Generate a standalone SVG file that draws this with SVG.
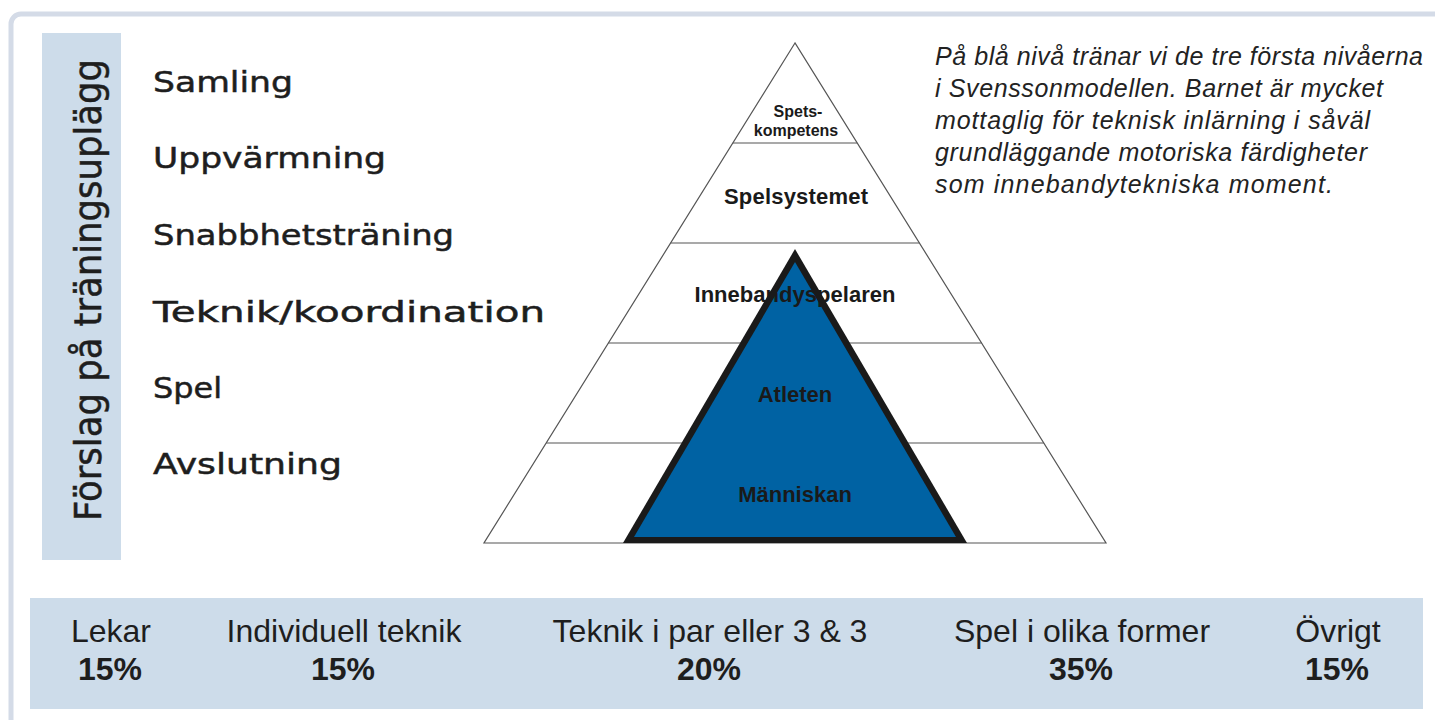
<svg xmlns="http://www.w3.org/2000/svg" width="1435" height="720" viewBox="0 0 1435 720">
  <style>
    .panel { fill: #cddcea; }
    .hand { font-family: "DejaVu Sans", sans-serif; font-size: 29px; fill: #1e1e1e; stroke: #1e1e1e; stroke-width: 0.5; }
    .tier { fill: none; stroke: #555; stroke-width: 1.2; }
    .lvl { font-family: "Liberation Sans", Arial, sans-serif; font-weight: bold; font-size: 22px; fill: #1a1a1a; text-anchor: middle; }
    .lvl.small { font-size: 16px; }
    .note { font-family: "Liberation Sans", Arial, sans-serif; font-style: italic; font-size: 25px; fill: #222; }
    .cat { font-family: "Liberation Sans", Arial, sans-serif; font-size: 32px; fill: #1e1e1e; text-anchor: middle; }
    .pct { font-family: "Liberation Sans", Arial, sans-serif; font-size: 32px; font-weight: bold; fill: #1e1e1e; text-anchor: middle; }
  </style>

  <!-- page frame -->
  <rect x="0" y="0" width="1435" height="720" fill="#ffffff"/>
  <rect x="11" y="14" width="1500" height="800" rx="10" fill="#ffffff" stroke="#d4dbe7" stroke-width="5"/>

  <!-- vertical heading -->
  <g id="heading">
    <rect class="panel" x="42" y="33" width="79" height="527"/>
    <text class="hand" style="font-size:38px" transform="translate(101,521) rotate(-90)" textLength="462" lengthAdjust="spacingAndGlyphs">Förslag på träningsuplägg</text>
  </g>

  <!-- session outline -->
  <g id="session-steps">
    <text class="hand" x="153" y="92" textLength="140" lengthAdjust="spacingAndGlyphs">Samling</text>
    <text class="hand" x="153" y="168" textLength="233" lengthAdjust="spacingAndGlyphs">Uppvärmning</text>
    <text class="hand" x="153" y="245" textLength="301" lengthAdjust="spacingAndGlyphs">Snabbhetsträning</text>
    <text class="hand" x="153" y="322" textLength="392" lengthAdjust="spacingAndGlyphs">Teknik/koordination</text>
    <text class="hand" x="153" y="398" textLength="69" lengthAdjust="spacingAndGlyphs">Spel</text>
    <text class="hand" x="153" y="474" textLength="189" lengthAdjust="spacingAndGlyphs">Avslutning</text>
  </g>

  <!-- pyramid -->
  <g id="pyramid">
    <polygon class="tier" points="795,43 484,543 1106,543" fill="#ffffff"/>
    <line class="tier" x1="732.8" y1="143" x2="857.2" y2="143"/>
    <line class="tier" x1="670.6" y1="243" x2="919.4" y2="243"/>
    <line class="tier" x1="608.4" y1="343" x2="981.6" y2="343"/>
    <line class="tier" x1="546.2" y1="443" x2="1043.8" y2="443"/>
  </g>

  <!-- blue level -->
  <g id="blue-level">
    <polygon points="795,249 623,543 967,543" fill="#1a1a1a"/>
    <polygon points="795,262 634,537 956,537" fill="#0062a3"/>
  </g>

  <g id="level-spetskompetens">
    <text class="lvl small" x="798" y="116.5">Spets-</text>
    <text class="lvl small" x="796" y="135.5">kompetens</text>
  </g>
  <g id="level-spelsystemet">
    <text class="lvl" x="796" y="204" textLength="144">Spelsystemet</text>
  </g>
  <g id="level-innebandyspelaren">
    <text class="lvl" x="795" y="302" textLength="201">Innebandyspelaren</text>
  </g>
  <g id="level-atleten">
    <text class="lvl" x="795" y="402">Atleten</text>
  </g>
  <g id="level-manniskan">
    <text class="lvl" x="795" y="502">Människan</text>
  </g>

  <!-- explanatory note -->
  <g id="note">
    <text class="note" x="935" y="65" textLength="488">På blå nivå tränar vi de tre första nivåerna</text>
    <text class="note" x="935" y="97" textLength="448">i Svenssonmodellen. Barnet är mycket</text>
    <text class="note" x="935" y="129" textLength="435">mottaglig för teknisk inlärning i såväl</text>
    <text class="note" x="935" y="161" textLength="432">grundläggande motoriska färdigheter</text>
    <text class="note" x="935" y="193" textLength="398">som innebandytekniska moment.</text>
  </g>

  <!-- time distribution -->
  <g id="distribution">
    <rect class="panel" x="30" y="598" width="1393" height="111"/>
    <g id="dist-lekar">
      <text class="cat" x="111" y="642">Lekar</text>
      <text class="pct" x="110" y="680">15%</text>
    </g>
    <g id="dist-individuell">
      <text class="cat" x="344" y="642">Individuell teknik</text>
      <text class="pct" x="343" y="680">15%</text>
    </g>
    <g id="dist-par">
      <text class="cat" x="710" y="642">Teknik i par eller 3 &amp; 3</text>
      <text class="pct" x="709" y="680">20%</text>
    </g>
    <g id="dist-spel">
      <text class="cat" x="1082" y="642">Spel i olika former</text>
      <text class="pct" x="1081" y="680">35%</text>
    </g>
    <g id="dist-ovrigt">
      <text class="cat" x="1338" y="642">Övrigt</text>
      <text class="pct" x="1337" y="680">15%</text>
    </g>
  </g>

  <!-- no connectors in this figure -->
  <g id="connectors"/>
</svg>
